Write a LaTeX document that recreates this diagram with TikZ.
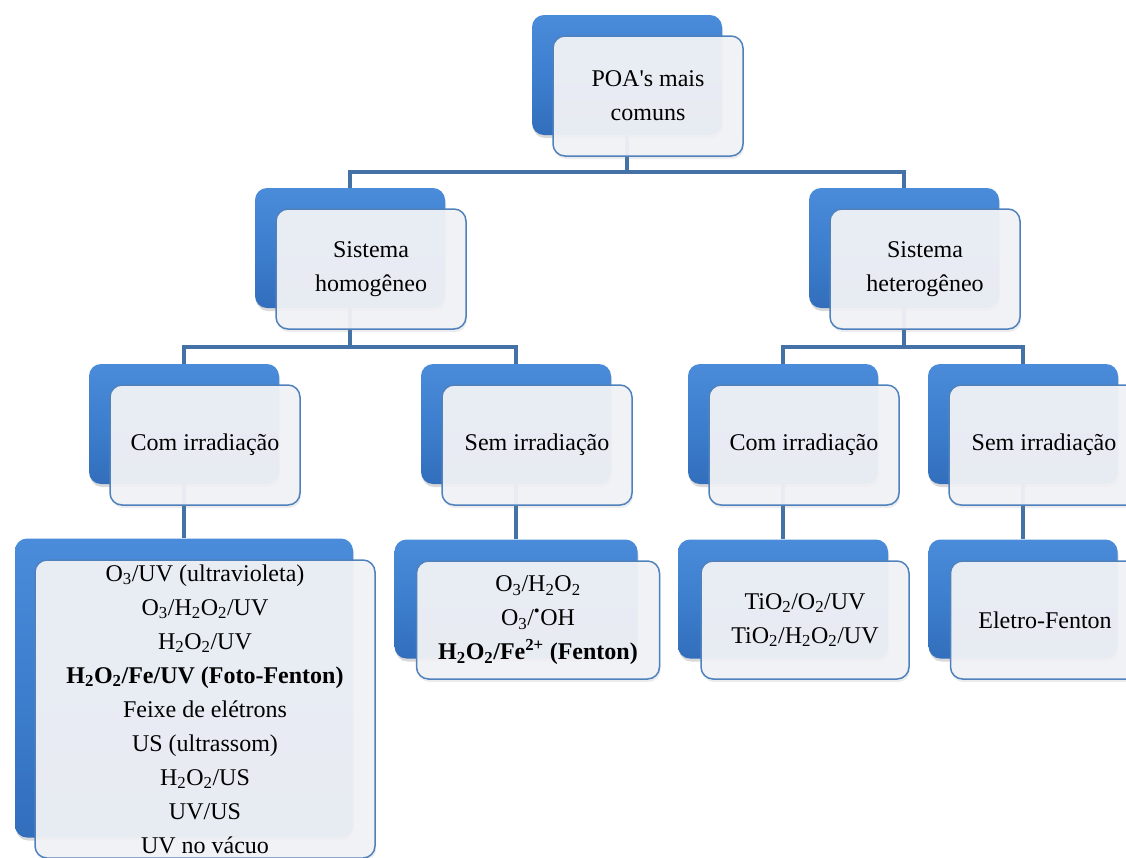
\documentclass[tikz,border=0pt]{standalone}
\usepackage{fontspec}
\setmainfont{Liberation Serif}
\usetikzlibrary{shadows,backgrounds}

\definecolor{poatop}{RGB}{74,140,218}
\definecolor{poamid}{RGB}{61,127,206}
\definecolor{poabot}{RGB}{50,110,188}
\definecolor{poaline}{RGB}{68,114,166}
\definecolor{poaedge}{RGB}{79,129,189}
\definecolor{poafill}{RGB}{241,242,246}

\newcommand{\poasub}[1]{\textsubscript{#1}}

\tikzset{
  poaback/.style={rectangle, rounded corners=12pt, top color=poatop, bottom color=poabot, middle color=poamid,
    minimum width=190pt, minimum height=120pt, inner sep=0pt,
    drop shadow={opacity=0.3, shadow xshift=1pt, shadow yshift=-3pt}},
  poafront/.style={rectangle, rounded corners=12pt, draw=poaedge, line width=1.5pt, fill=poafill,
    fill opacity=0.95, text opacity=1, minimum width=190pt, minimum height=120pt, inner sep=0pt,
    align=center, font=\fontsize{24}{34}\selectfont,
    drop shadow={opacity=0.15, shadow xshift=1pt, shadow yshift=-3pt}},
  poalink/.style={draw=poaline, line width=4pt}
}

\begin{document}
\begin{tikzpicture}[x=1pt, y=-1pt]
  \useasboundingbox (0,0) rectangle (1126,857);
  \clip (0,0) rectangle (1126,857);

  % topo
  \node[poaback] (rootB) at (627,75) {};
  \node[poafront] (rootF) at ([shift={(21,21)}]rootB.center) {POA\textquotesingle s mais\\comuns};

  % sistemas
  \node[poaback] (homB) at (350,248) {};
  \node[poafront] (homF) at ([shift={(21,21)}]homB.center) {Sistema\\homogêneo};
  \node[poaback] (hetB) at (904,248) {};
  \node[poafront] (hetF) at ([shift={(21,21)}]hetB.center) {Sistema\\heterogêneo};

  % irradiacao
  \node[poaback] (comB) at (184,424) {};
  \node[poafront] (comF) at ([shift={(21,21)}]comB.center) {Com irradiação};
  \node[poaback] (semB) at (516,424) {};
  \node[poafront] (semF) at ([shift={(21,21)}]semB.center) {Sem irradiação};
  \node[poaback] (comhB) at (783,424) {};
  \node[poafront] (comhF) at ([shift={(21,21)}]comhB.center) {Com irradiação};
  \node[poaback] (semhB) at (1023,424) {};
  \node[poafront] (semhF) at ([shift={(21,21)}]semhB.center) {Sem irradiação};

  % processos
  \node[poaback, minimum width=338pt, minimum height=299pt] (procaB) at (184,688) {};
  \node[poafront, minimum width=340pt, minimum height=298pt] (procaF) at ([shift={(21,21)}]procaB.center)
    {O\poasub{3}/UV (ultravioleta)\\
     O\poasub{3}/H\poasub{2}O\poasub{2}/UV\\
     H\poasub{2}O\poasub{2}/UV\\
     \textbf{H\poasub{2}O\poasub{2}/Fe/UV (Foto-Fenton)}\\
     Feixe de elétrons\\
     US (ultrassom)\\
     H\poasub{2}O\poasub{2}/US\\
     UV/US\\
     UV no vácuo};
  \node[poaback, minimum width=243pt, minimum height=119pt] (procbB) at (516,599) {};
  \node[poafront, minimum width=243pt, minimum height=118pt] (procbF) at ([shift={(22,21)}]procbB.center)
    {O\poasub{3}/H\poasub{2}O\poasub{2}\\
     O\poasub{3}/\textsuperscript{•}OH\\
     \textbf{H\poasub{2}O\poasub{2}/Fe\textsuperscript{2+} (Fenton)}};
  \node[poaback, minimum width=210pt, minimum height=119pt] (proccB) at (783,599) {};
  \node[poafront, minimum width=208pt, minimum height=118pt] (proccF) at ([shift={(22,21)}]proccB.center)
    {TiO\poasub{2}/O\poasub{2}/UV\\
     TiO\poasub{2}/H\poasub{2}O\poasub{2}/UV};
  \node[poaback, minimum width=189pt, minimum height=119pt] (procdB) at (1023,599) {};
  \node[poafront, minimum width=189pt, minimum height=118pt] (procdF) at ([shift={(22,21)}]procdB.center)
    {Eletro-Fenton};

  % ligacoes
  \begin{scope}[on background layer]
    \coordinate (bar0) at (627,172);
    \coordinate (bar1) at (350,347);
    \coordinate (bar2) at (904,347);
    \draw[poalink] (rootB) -- (bar0);
    \draw[poalink] (homB.north) |- (bar0) -| (hetB.north);
    \draw[poalink] (homB) -- (bar1);
    \draw[poalink] (comB.north) |- (bar1) -| (semB.north);
    \draw[poalink] (hetB) -- (bar2);
    \draw[poalink] (comhB.north) |- (bar2) -| (semhB.north);
    \draw[poalink] (comB) -- (comB |- procaB.north);
    \draw[poalink] (semB) -- (semB |- procbB.north);
    \draw[poalink] (comhB) -- (comhB |- proccB.north);
    \draw[poalink] (semhB) -- (semhB |- procdB.north);
  \end{scope}
\end{tikzpicture}
\end{document}
